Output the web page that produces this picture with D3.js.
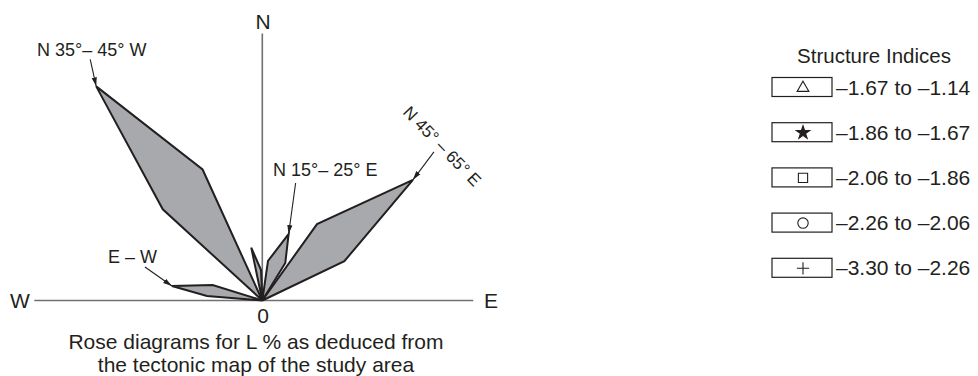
<!DOCTYPE html>
<html>
<head>
<meta charset="utf-8">
<script src="https://cdn.jsdelivr.net/npm/d3@7"></script>
<style>
  html, body { margin: 0; padding: 0; background: #fff; }
  svg { display: block; font-family: "Liberation Sans", Arial, Helvetica, sans-serif; }
</style>
</head>
<body>
<svg id="chart" width="978" height="376"></svg>
<script>
// Rose petals: azimuth (degrees clockwise from N) and length (L %) of each outline vertex
const petalNames = ["N 35°–45° W", "N 5°–15° W", "N 15°–25° E", "N 45°–65° E", "E–W"];
const petalAzimuths = [
  [-47.5, -37.8, -24.5],
  [-11.8, -2.4],
  [8.2, 21.6, 31.5],
  [35.6, 51.3, 64.4],
  [-85.3, -80.9, -72.7]
];
const petalLengths = [
  [13.5, 27.1, 14.4],
  [5.4, 3.05],
  [4.0, 7.15, 4.4],
  [9.4, 19.3, 9.1],
  [5.55, 9.15, 5.2]
];

// Callout labels and the petal whose peak each one points to
const calloutTexts = ["N 35°– 45° W", "N 15°– 25° E", "N 45° – 65° E", "E – W"];
const calloutPetals = [0, 2, 3, 4];
const calloutPeaks = [1, 1, 1, 1];

// Compass annotation
const compassLabels = ["N", "W", "E", "0"];
const captionLines = ["Rose diagrams for L % as deduced from", "the tectonic map of the study area"];

// Legend
const legendTitle = "Structure Indices";
const legendSymbols = ["triangle", "star", "square", "circle", "plus"];
const legendRanges = ["–1.67 to –1.14", "–1.86 to –1.67", "–2.06 to –1.86", "–2.26 to –2.06", "–3.30 to –2.26"];

const svg = d3.select("#chart");
const ink = "#231f20";
const axisGrey = "#707070";
const petalFill = "#a7a9ac";

const cx = 262.3, cy = 300.5;
const r = d3.scaleLinear().domain([0, 30]).range([0, 300]);

const g = svg.append("g").attr("transform", `translate(${cx},${cy})`);

// compass axes
g.append("line").attr("x1", -228).attr("x2", 211).attr("y1", 0).attr("y2", 0)
  .attr("stroke", axisGrey).attr("stroke-width", 1.6);
g.append("line").attr("x1", 0).attr("x2", 0).attr("y1", 0).attr("y2", -267)
  .attr("stroke", axisGrey).attr("stroke-width", 1.6);

// petals: origin -> vertices -> origin
const radial = d3.lineRadial()
  .angle(d => d.az * Math.PI / 180)
  .radius(d => r(d.len))
  .curve(d3.curveLinearClosed);

const petals = petalAzimuths.map((az, i) =>
  [{ az: az[0], len: 0 }].concat(az.map((a, j) => ({ az: a, len: petalLengths[i][j] }))));

g.selectAll("path.petal").data(petals).join("path")
  .attr("class", "petal")
  .attr("d", radial)
  .attr("fill", petalFill)
  .attr("stroke", ink)
  .attr("stroke-width", 2)
  .attr("stroke-linejoin", "miter");

function polar(az, len) {
  const a = az * Math.PI / 180;
  return [r(len) * Math.sin(a), -r(len) * Math.cos(a)];
}

// arrowhead
svg.append("defs").append("marker")
  .attr("id", "head").attr("viewBox", "-9 -4 10 8")
  .attr("refX", 0).attr("refY", 0)
  .attr("markerWidth", 10).attr("markerHeight", 8)
  .attr("markerUnits", "userSpaceOnUse")
  .attr("orient", "auto")
  .append("path").attr("d", "M0,0L-9,-2.6L-9,2.6Z").attr("fill", ink);

// callouts: arrow tail offset from the peak, and text placement
const calloutTail = [[-6, -27], [7, -51], [21, -28], [-27, -19]];
const calloutText = [
  { x: 37, y: 56, rot: 0, size: 18 },
  { x: 273, y: 176, rot: 0, size: 18 },
  { x: 402, y: 113, rot: 46, size: 17 },
  { x: 108, y: 263, rot: 0, size: 18 }
];

calloutTexts.forEach((t, i) => {
  const p = calloutPetals[i], k = calloutPeaks[i];
  const [px, py] = polar(petalAzimuths[p][k], petalLengths[p][k]);
  const tip = [cx + px, cy + py];
  svg.append("line")
    .attr("x1", tip[0] + calloutTail[i][0]).attr("y1", tip[1] + calloutTail[i][1])
    .attr("x2", tip[0]).attr("y2", tip[1])
    .attr("stroke", ink).attr("stroke-width", 1.1)
    .attr("marker-end", "url(#head)");
  const c = calloutText[i];
  svg.append("text")
    .attr("transform", `translate(${c.x},${c.y}) rotate(${c.rot})`)
    .attr("font-size", c.size).attr("fill", ink)
    .text(t);
});

// compass letters
const compassPos = [[263, 29], [20, 308], [491, 308], [263, 323]];
compassLabels.forEach((t, i) => {
  svg.append("text").attr("x", compassPos[i][0]).attr("y", compassPos[i][1])
    .attr("text-anchor", "middle").attr("font-size", 21).attr("fill", ink).text(t);
});

captionLines.forEach((t, i) => {
  svg.append("text").attr("x", 256).attr("y", 349 + i * 22.5)
    .attr("text-anchor", "middle").attr("font-size", 21).attr("fill", ink).text(t);
});

// legend
const lg = svg.append("g");
lg.append("text").attr("x", 874).attr("y", 63).attr("text-anchor", "middle")
  .attr("font-size", 20.5).attr("fill", ink).text(legendTitle);

const thinPlus = { draw(ctx, size) { const s = Math.sqrt(size) / 2; ctx.moveTo(-s, 0); ctx.lineTo(s, 0); ctx.moveTo(0, -s); ctx.lineTo(0, s); } };
const symbolTypes = { triangle: d3.symbolTriangle, star: d3.symbolStar, square: d3.symbolSquare, circle: d3.symbolCircle, plus: thinPlus };
const symbolSizes = { triangle: 60, star: 55, square: 85, circle: 85, plus: 150 };

const rows = lg.selectAll("g.row").data(legendSymbols).join("g")
  .attr("class", "row")
  .attr("transform", (d, i) => `translate(0,${77.5 + i * 45.2})`);

rows.append("rect").attr("x", 772).attr("y", 0).attr("width", 60).attr("height", 19)
  .attr("fill", "none").attr("stroke", ink).attr("stroke-width", 1.2);

rows.append("path")
  .attr("transform", d => `translate(803,${d === "triangle" ? 10.5 : 10})`)
  .attr("d", d => d3.symbol().type(symbolTypes[d]).size(symbolSizes[d])())
  .attr("fill", d => d === "star" ? ink : "none")
  .attr("stroke", ink).attr("stroke-width", 1.1);

rows.append("text").attr("x", 836).attr("y", 17)
  .attr("font-size", 21).attr("fill", ink)
  .text((d, i) => legendRanges[i]);
</script>
</body>
</html>
